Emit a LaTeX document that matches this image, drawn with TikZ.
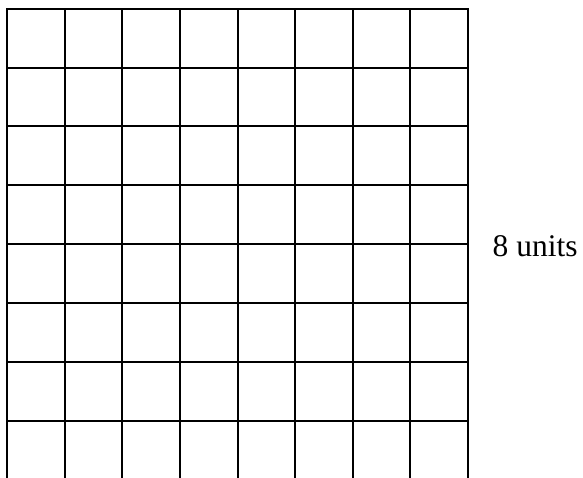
\documentclass[tikz,border=0pt]{standalone}
\usepackage{fontspec}
\setmainfont{Liberation Serif}
\begin{document}
\begin{tikzpicture}[x=1pt,y=-1pt,
  gridline/.style={line width=2pt,line cap=rect},
  lbl/.style={font=\fontsize{31.5}{36}\selectfont,inner sep=0pt,anchor=base west}]
\useasboundingbox (0,0) rectangle (583,477);
\foreach \x in {7,65,122,180,238,295,353,410,468}{
  \draw[gridline] (\x,9) -- (\x,478);
}
\foreach \y in {9,68,126,185,244,303,362,421}{
  \draw[gridline] (7,\y) -- (468,\y);
}
\node[lbl] (units) at (492.5,256) {8 units};
\end{tikzpicture}
\end{document}
